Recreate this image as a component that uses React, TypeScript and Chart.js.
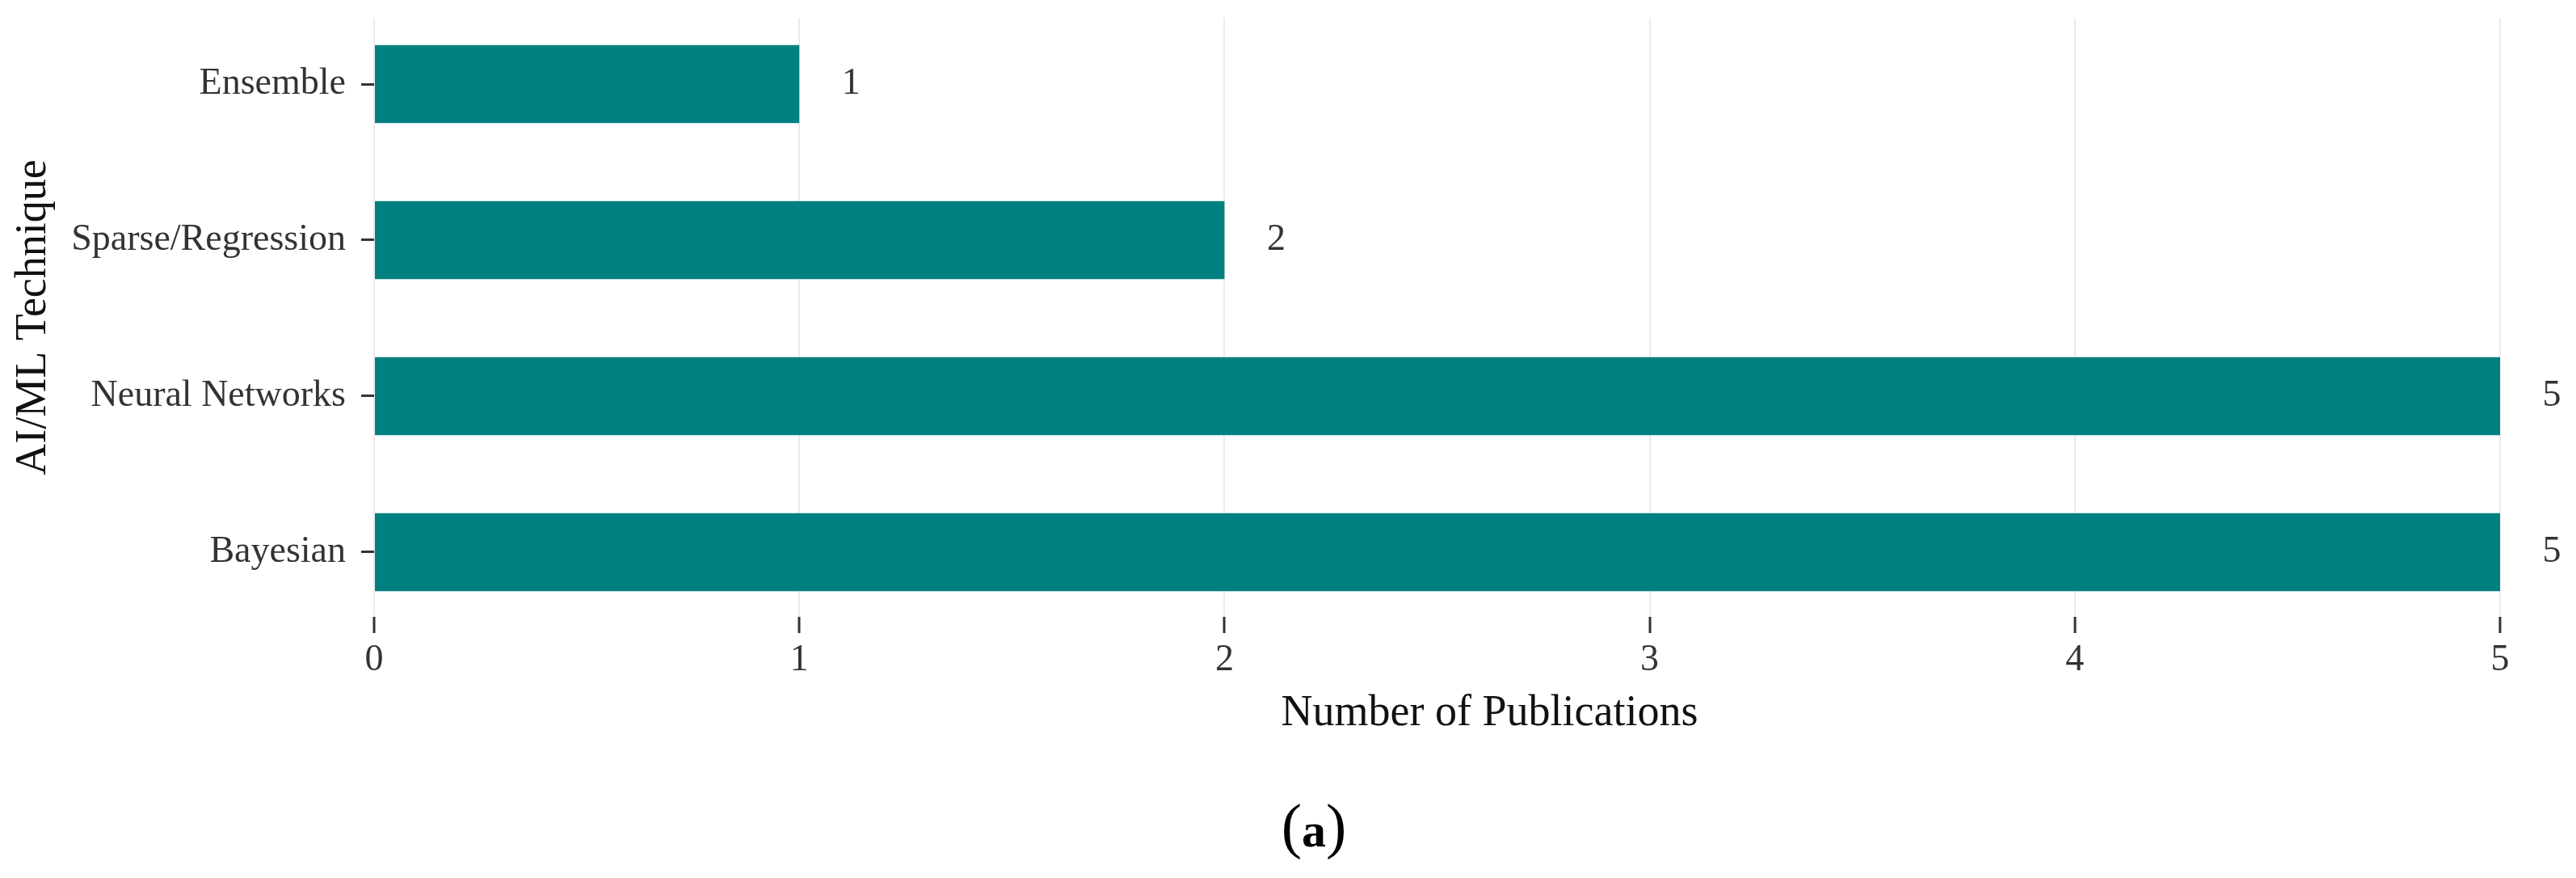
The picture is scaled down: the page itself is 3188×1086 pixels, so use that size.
import React, { useEffect, useRef } from "react";
import { Chart, registerables } from "chart.js";

Chart.register(...registerables);

// ---- Data ----
const categories: string[] = ["Ensemble", "Sparse/Regression", "Neural Networks", "Bayesian"];
const publications: number[] = [1, 2, 5, 5];
const xTickValues: number[] = [0, 1, 2, 3, 4, 5];
const xTitle = "Number of Publications";
const yTitle = "AI/ML Technique";
const panelLabel = "a";

const SERIF = '"Liberation Serif", "Times New Roman", serif';
const TICK_COLOR = "#333333";
const TITLE_COLOR = "#111111";
const BAR_COLOR = "#008080";

const annotatePlugin = {
  id: "annotate",
  afterDatasetsDraw(chart: any) {
    const ctx: CanvasRenderingContext2D = chart.ctx;
    const meta = chart.getDatasetMeta(0);
    const area = chart.chartArea;
    ctx.save();
    // value labels to the right of each bar
    ctx.font = `46px ${SERIF}`;
    ctx.fillStyle = TICK_COLOR;
    ctx.textAlign = "center";
    ctx.textBaseline = "middle";
    meta.data.forEach((bar: any, i: number) => {
      ctx.fillText(String(publications[i]), bar.x + 64, bar.y);
    });
    // x axis title
    ctx.font = `54px ${SERIF}`;
    ctx.fillStyle = TITLE_COLOR;
    ctx.textAlign = "center";
    ctx.textBaseline = "alphabetic";
    ctx.fillText(xTitle, (area.left + area.right) / 2 + 65, area.bottom + 134);
    // panel label "(a)"
    const baseY = area.bottom + 284;
    const cx = 1626;
    const parenFont = `76px ${SERIF}`;
    const aFont = `bold 60px ${SERIF}`;
    ctx.font = parenFont;
    const wl = ctx.measureText("(").width;
    const wr = ctx.measureText(")").width;
    ctx.font = aFont;
    const wa = ctx.measureText(panelLabel).width;
    let x = cx - (wl + wa + wr) / 2;
    ctx.textAlign = "left";
    ctx.fillStyle = "#000000";
    ctx.font = parenFont;
    ctx.fillText("(", x, baseY);
    x += wl;
    ctx.font = aFont;
    ctx.fillText(panelLabel, x, baseY);
    x += wa;
    ctx.font = parenFont;
    ctx.fillText(")", x, baseY);
    ctx.restore();
  },
};

export default function App() {
  const canvasRef = useRef<HTMLCanvasElement>(null);

  useEffect(() => {
    const canvas = canvasRef.current;
    if (!canvas) return;
    const chart = new Chart(canvas, {
      type: "bar",
      data: {
        datasets: [
          {
            data: categories.map((_, i) => ({ x: publications[i], y: i })),
            backgroundColor: BAR_COLOR,
            borderWidth: 0,
            barPercentage: 0.5,
            categoryPercentage: 1,
          } as any,
        ],
      },
      options: {
        indexAxis: "y",
        responsive: false,
        maintainAspectRatio: false,
        animation: false,
        layout: { padding: { top: 22, right: 94, bottom: 223, left: 0 } },
        plugins: {
          legend: { display: false },
          tooltip: { enabled: false },
        },
        scales: {
          x: {
            type: "linear",
            position: "bottom",
            min: 0,
            max: 5,
            offset: false,
            afterBuildTicks: (s: any) => {
              s.ticks = xTickValues.map((v) => ({ value: v }));
            },
            afterFit: (s: any) => {
              s.height = 100;
              s.paddingLeft = 0;
              s.paddingRight = 0;
            },
            ticks: {
              font: { family: SERIF, size: 46 },
              color: TICK_COLOR,
              padding: 6,
              maxRotation: 0,
            },
            grid: {
              offset: false,
              color: "#ebebeb",
              lineWidth: 2,
              tickColor: TICK_COLOR,
              tickWidth: 3,
              tickLength: 20,
            },
            border: { display: false },
          },
          y: {
            type: "linear",
            position: "left",
            reverse: true,
            min: -0.425,
            max: 3.415,
            offset: false,
            afterBuildTicks: (s: any) => {
              s.ticks = categories.map((_, i) => ({ value: i }));
            },
            afterFit: (s: any) => {
              s.width = 463;
              s.paddingTop = 0;
              s.paddingBottom = 0;
            },
            ticks: {
              callback: (v: any) => categories[Math.round(Number(v))] ?? "",
              font: { family: SERIF, size: 46 },
              color: TICK_COLOR,
              padding: 19,
              autoSkip: false,
            },
            grid: {
              offset: false,
              drawOnChartArea: false,
              drawTicks: true,
              tickLength: 16,
              tickColor: TICK_COLOR,
              tickWidth: 3,
            },
            border: { display: false },
            title: {
              display: true,
              text: yTitle,
              color: TITLE_COLOR,
              font: { family: SERIF, size: 54 },
              padding: { top: 9, bottom: 0 },
            },
          },
        },
      } as any,
      plugins: [annotatePlugin],
    });
    return () => chart.destroy();
  }, []);

  return (
    <div
      style={{
        position: "absolute",
        left: 0,
        top: 0,
        width: 3188,
        height: 1086,
        background: "#ffffff",
      }}
    >
      <canvas ref={canvasRef} width={3188} height={1086} style={{ display: "block" }} />
    </div>
  );
}
